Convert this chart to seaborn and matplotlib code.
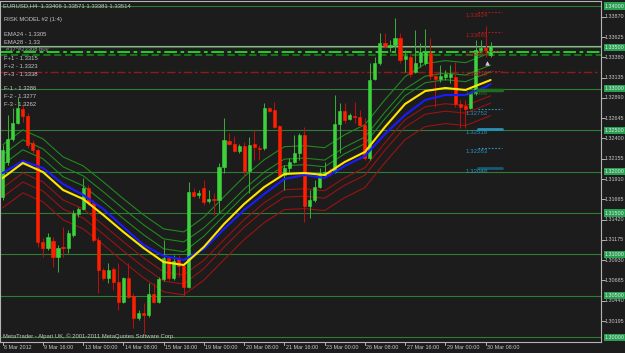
import numpy as np
import pandas as pd
import matplotlib
matplotlib.use("Agg")
import matplotlib.pyplot as plt
import seaborn as sns
from matplotlib.transforms import blended_transform_factory, offset_copy

# ---------------- data (EURUSD H4) ----------------
opens = [1.31693, 1.32116, 1.32394, 1.32587, 1.32756, 1.32672, 1.32346, 1.32261, 1.31150, 1.31078,
         1.31162, 1.30969, 1.31090, 1.31078, 1.31234, 1.31488, 1.31548, 1.31802, 1.31621, 1.31174,
         1.30812, 1.30715, 1.30824, 1.30667, 1.30425, 1.30715, 1.30498, 1.30232, 1.30292, 1.30268,
         1.30522, 1.30425, 1.30703, 1.30957, 1.30715, 1.30957, 1.30860, 1.30606, 1.31754, 1.31718,
         1.31802, 1.31645, 1.31669, 1.31657, 1.32056, 1.32370, 1.32334, 1.32249, 1.32310, 1.32007,
         1.32334, 1.32291, 1.32285, 1.32768, 1.32744, 1.32551, 1.31959, 1.32043, 1.32116, 1.32225,
         1.32442, 1.31585, 1.31657, 1.31814, 1.31959, 1.31995, 1.31995, 1.32575, 1.32732, 1.32635,
         1.32672, 1.32660, 1.32563, 1.32164, 1.33119, 1.33312, 1.33553, 1.33505, 1.33529, 1.33614,
         1.33360, 1.33384, 1.33203, 1.33324, 1.33312, 1.33432, 1.33155, 1.33119, 1.33143, 1.33143,
         1.33143, 1.32817, 1.32792, 1.32768, 1.32949, 1.33469, 1.33493, 1.33406]
highs = [1.32322, 1.32684, 1.32768, 1.32901, 1.32817, 1.32708, 1.32382, 1.32285, 1.31198, 1.31259,
         1.31210, 1.31114, 1.31331, 1.31295, 1.31536, 1.31573, 1.31923, 1.31838, 1.31657, 1.31210,
         1.30836, 1.30896, 1.30848, 1.30896, 1.30727, 1.30896, 1.30534, 1.30329, 1.30413, 1.30655,
         1.30655, 1.30727, 1.31174, 1.30969, 1.30993, 1.30993, 1.30896, 1.31874, 1.31802, 1.31778,
         1.31899, 1.31778, 1.31742, 1.32104, 1.32647, 1.32466, 1.32430, 1.32334, 1.32358, 1.32418,
         1.32502, 1.32322, 1.32829, 1.32780, 1.32841, 1.32563, 1.32080, 1.32164, 1.32442, 1.32466,
         1.32539, 1.31778, 1.31899, 1.32043, 1.32116, 1.32043, 1.32925, 1.32829, 1.32829, 1.32708,
         1.32841, 1.32744, 1.32647, 1.33312, 1.33384, 1.33674, 1.33674, 1.33589, 1.33855, 1.33674,
         1.33469, 1.33432, 1.33710, 1.33553, 1.33722, 1.33614, 1.33191, 1.33288, 1.33227, 1.33288,
         1.33324, 1.32865, 1.32865, 1.32961, 1.33589, 1.33589, 1.33758, 1.33571]
lows = [1.31657, 1.32080, 1.32370, 1.32575, 1.32599, 1.32285, 1.32225, 1.31090, 1.30969, 1.31053,
        1.30848, 1.30788, 1.30969, 1.31017, 1.31210, 1.31452, 1.31536, 1.31597, 1.31150, 1.30534,
        1.30691, 1.30655, 1.30570, 1.30329, 1.30413, 1.30474, 1.30111, 1.30208, 1.30051, 1.30244,
        1.30413, 1.30413, 1.30679, 1.30691, 1.30691, 1.30727, 1.30498, 1.30598, 1.31693, 1.31681,
        1.31597, 1.31621, 1.31476, 1.31500, 1.31983, 1.32322, 1.32237, 1.32225, 1.31935, 1.31742,
        1.32140, 1.32140, 1.32261, 1.32720, 1.32527, 1.31935, 1.31778, 1.31995, 1.32104, 1.32140,
        1.31391, 1.31440, 1.31633, 1.31802, 1.31935, 1.31947, 1.31983, 1.32225, 1.32587, 1.32623,
        1.32587, 1.32539, 1.32140, 1.32140, 1.33106, 1.33288, 1.33493, 1.33444, 1.33432, 1.33312,
        1.33203, 1.33143, 1.33191, 1.33263, 1.33288, 1.33106, 1.32780, 1.33082, 1.33106, 1.33070,
        1.32780, 1.32527, 1.32527, 1.32756, 1.32925, 1.33432, 1.33384, 1.33381]
closes = [1.32261, 1.32394, 1.32587, 1.32768, 1.32672, 1.32322, 1.32261, 1.31150, 1.31078, 1.31210,
          1.30969, 1.31078, 1.31078, 1.31259, 1.31500, 1.31548, 1.31802, 1.31621, 1.31174, 1.30812,
          1.30715, 1.30812, 1.30667, 1.30425, 1.30715, 1.30486, 1.30232, 1.30292, 1.30268, 1.30522,
          1.30425, 1.30703, 1.30957, 1.30715, 1.30921, 1.30860, 1.30606, 1.31754, 1.31705, 1.31742,
          1.31633, 1.31669, 1.31657, 1.32056, 1.32382, 1.32334, 1.32249, 1.32310, 1.32007, 1.32322,
          1.32297, 1.32279, 1.32768, 1.32732, 1.32539, 1.31959, 1.32043, 1.32116, 1.32225, 1.32442,
          1.31585, 1.31657, 1.31814, 1.31983, 1.31995, 1.31971, 1.32575, 1.32732, 1.32623, 1.32684,
          1.32660, 1.32563, 1.32164, 1.33106, 1.33312, 1.33553, 1.33517, 1.33529, 1.33614, 1.33348,
          1.33396, 1.33179, 1.33312, 1.33444, 1.33444, 1.33155, 1.33119, 1.33155, 1.33179, 1.33179,
          1.32817, 1.32780, 1.32756, 1.32949, 1.33469, 1.33493, 1.33469, 1.33514]

# indicator lines, read every 4 bars
line_idx = [0, 4, 8, 12, 16, 20, 24, 28, 32, 36, 40, 44, 48, 52, 56, 60, 64, 68, 72, 76, 80, 84, 88, 92, 96, 97]
ema24 = [1.31923, 1.32104, 1.31995, 1.31778, 1.31669, 1.31476, 1.31271, 1.31078, 1.30908, 1.30872,
         1.31090, 1.31367, 1.31609, 1.31814, 1.31971, 1.31983, 1.31959, 1.32116, 1.32237, 1.32539,
         1.32817, 1.32973, 1.33010, 1.32986, 1.33082, 1.33106]
ema28 = [1.31983, 1.32128, 1.32043, 1.31850, 1.31718, 1.31548, 1.31331, 1.31114, 1.30981, 1.30933,
         1.31065, 1.31307, 1.31536, 1.31730, 1.31911, 1.31959, 1.31923, 1.32068, 1.32189, 1.32454,
         1.32684, 1.32865, 1.32925, 1.32925, 1.33022, 1.33058]
f_plus3 = [1.32323, 1.32504, 1.32395, 1.32178, 1.32069, 1.31876, 1.31671, 1.31478, 1.31308, 1.31272,
           1.31450, 1.31697, 1.31939, 1.32144, 1.32301, 1.32313, 1.32289, 1.32446, 1.32567, 1.32869,
           1.33147, 1.33303, 1.33340, 1.33316, 1.33412, 1.33436]
f_plus2 = [1.32203, 1.32384, 1.32275, 1.32058, 1.31949, 1.31756, 1.31551, 1.31358, 1.31188, 1.31152,
           1.31320, 1.31547, 1.31789, 1.31994, 1.32151, 1.32163, 1.32139, 1.32296, 1.32417, 1.32719,
           1.32997, 1.33153, 1.33190, 1.33166, 1.33262, 1.33286]
f_plus1 = [1.32083, 1.32264, 1.32155, 1.31938, 1.31829, 1.31636, 1.31431, 1.31238, 1.31068, 1.31032,
           1.31220, 1.31467, 1.31709, 1.31914, 1.32071, 1.32083, 1.32059, 1.32216, 1.32337, 1.32639,
           1.32917, 1.33073, 1.33110, 1.33086, 1.33182, 1.33206]
f_minus1 = [1.31803, 1.31984, 1.31875, 1.31658, 1.31549, 1.31356, 1.31151, 1.30958, 1.30788, 1.30752,
            1.30930, 1.31177, 1.31419, 1.31624, 1.31781, 1.31793, 1.31769, 1.31926, 1.32047, 1.32349,
            1.32627, 1.32783, 1.32820, 1.32796, 1.32892, 1.32916]
f_minus2 = [1.31693, 1.31874, 1.31765, 1.31548, 1.31439, 1.31246, 1.31041, 1.30848, 1.30678, 1.30642,
            1.30830, 1.31087, 1.31329, 1.31534, 1.31691, 1.31703, 1.31679, 1.31836, 1.31957, 1.32259,
            1.32537, 1.32693, 1.32730, 1.32706, 1.32802, 1.32826]
f_minus3 = [1.31563, 1.31744, 1.31635, 1.31418, 1.31309, 1.31116, 1.30911, 1.30718, 1.30548, 1.30512,
            1.30690, 1.30937, 1.31179, 1.31384, 1.31541, 1.31553, 1.31529, 1.31686, 1.31807, 1.32109,
            1.32387, 1.32543, 1.32580, 1.32556, 1.32652, 1.32676]

date_idx = [0, 8, 16, 24, 32, 40, 48, 56, 64, 72, 80, 88, 96]
date_labels = ["8 Mar 2012", "9 Mar 16:00", "13 Mar 00:00", "14 Mar 08:00", "15 Mar 16:00",
               "19 Mar 00:00", "20 Mar 08:00", "21 Mar 16:00", "23 Mar 00:00", "26 Mar 08:00",
               "27 Mar 16:00", "29 Mar 00:00", "30 Mar 08:00"]

round_levels = [1.34000, 1.33500, 1.33000, 1.32500, 1.32000, 1.31500, 1.31000, 1.30500, 1.30000]
axis_ticks = [1.33870, 1.33625, 1.33380, 1.33135, 1.32890, 1.32645, 1.32400, 1.32155, 1.31910,
              1.31665, 1.31420, 1.31175, 1.30930, 1.30685, 1.30440, 1.30195]

bid_price = 1.33514
order_price = 1.33441
order_price2 = 1.33405
stop_price = 1.33203
arrow_price = 1.33312

red_targets = [1.33924, 1.33689, 1.33454, 1.33219]
green_target = [1.32986]
blue_targets = [1.32752, 1.32518, 1.32283, 1.32048]

info_lines = ["RISK MODEL #2 (1:4)", "EMA24 - 1.3305", "EMA28 - 1.33", "F+1 - 1.3315", "F+2 - 1.3323",
              "F+3 - 1.3338", "F-1 - 1.3286", "F-2 - 1.3277", "F-3 - 1.3262"]

# ---------------- style ----------------
BG = "#1c1c1c"
FG = "#c8c8c8"
sns.set_theme(style="dark")
plt.rcParams["font.family"] = ["Liberation Sans", "DejaVu Sans"]
FS = 4.2
AFS = 3.9

W, H = 625, 353
fig = plt.figure(figsize=(W / 100, H / 100), dpi=100, facecolor=BG)
ax = fig.add_axes([0 / W, (H - 342) / H, 601 / W, 341 / H])
ax.set_facecolor(BG)
ax.set_xlim(-0.537, 118.95)
ax.set_ylim(1.299422, 1.340604)
for s in ax.spines.values():
    s.set_color("#b4b4b4")
    s.set_linewidth(0.8)

n = len(opens)
idx = np.arange(n)
o = np.array(opens); c = np.array(closes); hi = np.array(highs); lo = np.array(lows)
bull = c >= o

# horizontal levels
for lv in round_levels:
    ax.axhline(lv, color="#2e7d32", lw=0.8, zorder=1)
ax.axhline(bid_price, color="#a8a8a8", lw=0.8, zorder=1)
ax.axhline(order_price, color="#22e022", lw=1.3, dashes=(7, 2, 2, 2), zorder=1)
ax.axhline(order_price2, color="#167a16", lw=1.3, dashes=(4, 2), zorder=1)
ax.axhline(stop_price, color="#8e1a1a", lw=1.0, dashes=(6, 2, 2, 2), zorder=1)

# bands
bands = pd.DataFrame({"i": line_idx, "F+3": f_plus3, "F+2": f_plus2, "F+1": f_plus1,
                      "F-1": f_minus1, "F-2": f_minus2, "F-3": f_minus3})
band_colors = {"F+3": "#1f8a1f", "F+2": "#1f8a1f", "F+1": "#1f8a1f",
               "F-1": "#9b1212", "F-2": "#9b1212", "F-3": "#9b1212"}
for nm, col in band_colors.items():
    sns.lineplot(data=bands, x="i", y=nm, ax=ax, color=col, lw=0.8, sort=False, legend=False, zorder=2)

# candles
wick_cols = np.where(bull, "#3aa83a", "#b81010")
body_cols = np.where(bull, "#3cd23c", "#ff1e00")
ax.vlines(idx, lo, hi, colors=wick_cols, lw=0.75, zorder=3)
ax.bar(idx, np.abs(c - o), bottom=np.minimum(o, c), width=0.62, color=body_cols,
       edgecolor=body_cols, linewidth=0.4, zorder=4)

# EMAs
sns.lineplot(x=line_idx, y=ema28, ax=ax, color="#1a1aff", lw=1.5, sort=False, legend=False, zorder=5)
sns.lineplot(x=line_idx, y=ema24, ax=ax, color="#ffe600", lw=1.5, sort=False, legend=False, zorder=6)
ax.plot([96.3], [arrow_price], marker="^", ms=2.6, color="#e8b0e8", mec="#ffffff", mew=0.3, zorder=7)

# target level markers
def target(p, col, txtcol, style):
    if style == "dot":
        ax.plot([94.5, 99.3], [p, p], color=col, lw=0.8, dashes=(1.5, 1.5), zorder=7)
    else:
        ax.plot([94.5, 99.3], [p, p], color=col, lw=style, zorder=7)
    t = offset_copy(ax.transData, fig=fig, x=0, y=-1.2, units="dots")
    ax.text(92.1, p, f"{p:.5f}", color=txtcol, fontsize=FS + 0.2, va="top",
            ha="left", transform=t, zorder=8)

for p in red_targets:
    target(p, "#b01c1c", "#b01c1c", "dot")
target(green_target[0], "#1e6e1e", "#1e6e1e", 2.5)
for k, p in enumerate(blue_targets):
    target(p, ["#2a9ac0", "#2a8fb5", "#2a9ac0", "#175a70"][k], "#2a8fb5", ["dot", 2.0, "dot", 2.0][k])

# axes ticks / labels
ax.set_xticks([])
ax.set_yticks([])
ax.set_xlabel("")
ax.set_ylabel("")
bt = blended_transform_factory(ax.transData, ax.transAxes)
for i_, lab in zip(date_idx, date_labels):
    ax.plot([i_, i_], [0, -0.008], transform=bt, color="#b4b4b4", lw=0.7, clip_on=False)
    ax.text(i_ + 0.3, -0.008, lab, transform=bt, color=FG, fontsize=AFS, ha="left", va="top")

rt = blended_transform_factory(ax.transAxes, ax.transData)
for p in axis_ticks:
    ax.plot([1.0, 1.006], [p, p], transform=rt, color="#b4b4b4", lw=0.7, clip_on=False)
    ax.text(1.0065, p, f"{p:.5f}", transform=rt, color=FG, fontsize=AFS, ha="left", va="center")
for p in round_levels:
    ax.text(1.0065, p, f"{p:.5f}", transform=rt, color="#eaeaea", fontsize=AFS, ha="left", va="center",
            bbox=dict(boxstyle="square,pad=0.2", fc="#27a052", ec="none"))

# info texts
def ftext(px, py, s, col=FG, fs=FS):
    fig.text(px / W, 1 - py / H, s, color=col, fontsize=fs, ha="left", va="center")

ftext(3, 6, "EURUSD,H4  1.33406 1.33571 1.33381 1.33514")
ys = [20, 35, 43, 58, 66, 74, 89, 96, 104]
for y, s in zip(ys, info_lines):
    ftext(4, y, s)
ftext(6, 49, "#37*#23308 buy", col="#9a9a9a")
ftext(3, 336, "MetaTrader - Alpari UK, \u00a9 2001-2011 MetaQuotes Software Corp.")

fig.savefig("out.png", dpi=100, facecolor=BG)
